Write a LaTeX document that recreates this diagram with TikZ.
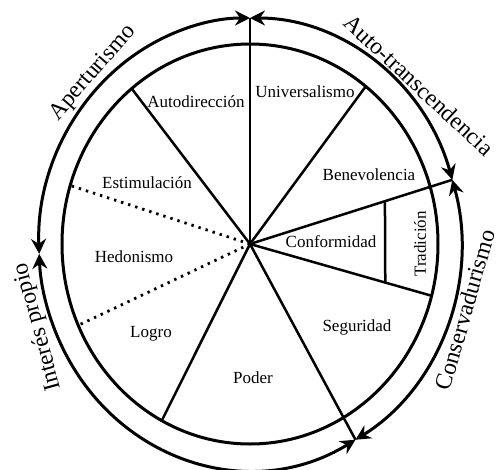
\documentclass[tikz,border=0pt]{standalone}
\usepackage{fontspec}
\setmainfont{Liberation Serif}
\usetikzlibrary{arrows.meta, calc}

\begin{document}
\begin{tikzpicture}[
    x=1pt, y=1pt,
    ring/.style={line width=3pt},
    flow/.style={line width=3pt, {Stealth[length=15pt, width=15pt, inset=5pt]}-{Stealth[length=15pt, width=15pt, inset=5pt]}},
    spoke/.style={line width=2.5pt},
    border/.style={line width=2.8pt, dash pattern=on 2.4pt off 5pt},
    value/.style={font=\fontsize{17}{20}\selectfont, inner sep=0pt},
    dimension/.style={font=\fontsize{23.5}{28}\selectfont, inner sep=0pt}
]
    \useasboundingbox (-250,-225) rectangle (248,244);
    \coordinate (c) at (0,0);

    % Meeting points on the outer ring
    \coordinate (top) at (90:211 and 226);
    \coordinate (right) at (16.5:211 and 226);
    \coordinate (bottom) at (-60:211 and 226);
    \coordinate (left) at (182.5:211 and 226);

    % Ends of the spokes on the inner ring
    \coordinate (autodir) at (129:188 and 200);
    \coordinate (univ) at (52:188 and 200);
    \coordinate (conf) at (-15:188 and 200);
    \coordinate (logro) at (242:188 and 200);
    \coordinate (estim) at (163:188 and 200);
    \coordinate (hedon) at (204:188 and 200);
    \coordinate (tradA) at ($(c)!0.667!(right)$);
    \coordinate (tradB) at ($(c)!0.745!(conf)$);

    % Rings
    \draw[ring] (c) ellipse [x radius=188, y radius=200];
    \draw[flow] (left) arc[start angle=182.5, end angle=90, x radius=211, y radius=226];
    \draw[flow] (top) arc[start angle=90, end angle=16.5, x radius=211, y radius=226];
    \draw[flow] (right) arc[start angle=16.5, end angle=-60, x radius=211, y radius=226];
    \draw[flow] (bottom) arc[start angle=300, end angle=182.5, x radius=211, y radius=226];

    % Spokes
    \draw[spoke] (c) -- (top);
    \draw[spoke] (c) -- (autodir);
    \draw[spoke] (c) -- (univ);
    \draw[spoke] (c) -- (right);
    \draw[spoke] (c) -- (conf);
    \draw[spoke] (c) -- (bottom);
    \draw[spoke] (c) -- (logro);
    \draw[spoke] (tradA) -- (tradB);
    \draw[border] (c) -- (estim);
    \draw[border] (c) -- (hedon);

    % Values
    \node[value] (v1) at (-54, 142) {Autodirección};
    \node[value] (v2) at (55, 152) {Universalismo};
    \node[value] (v3) at (119, 69) {Benevolencia};
    \node[value] (v4) at (-103, 61) {Estimulación};
    \node[value] (v5) at (81, 2) {Conformidad};
    \node[value, rotate=90] (v6) at (170, 0) {Tradición};
    \node[value] (v7) at (-116, -13) {Hedonismo};
    \node[value] (v8) at (-99, -90) {Logro};
    \node[value] (v9) at (107, -83) {Seguridad};
    \node[value] (v10) at (3, -134) {Poder};

    % Dimensions
    \node[dimension, rotate=49] (d1) at (-157, 171) {Aperturismo};
    \node[dimension, rotate=-43] (d2) at (169, 159) {Auto-transcendencia};
    \node[dimension, rotate=74] (d3) at (215, -66) {Conservadurismo};
    \node[dimension, rotate=105.5] (d4) at (-212, -83) {Interés propio};
\end{tikzpicture}
\end{document}
